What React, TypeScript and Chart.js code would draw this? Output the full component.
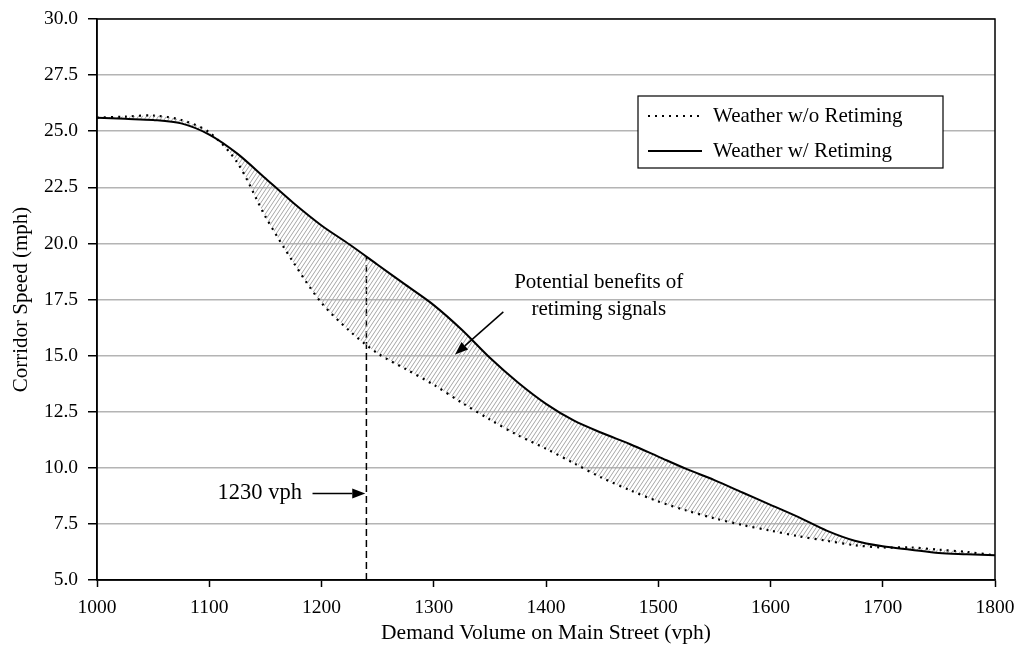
import React, { useEffect, useRef } from "react";
import { Chart, registerables } from "chart.js";

Chart.register(...registerables);

// Demand volume on main street (vph)
const volumes = [
  1000, 1025, 1050, 1075, 1100, 1125, 1150, 1175, 1200, 1225, 1250, 1275, 1300,
  1325, 1350, 1375, 1400, 1425, 1450, 1475, 1500, 1525, 1550, 1575, 1600, 1625,
  1650, 1675, 1700, 1725, 1750, 1775, 1800,
];

// Weather w/o Retiming (mph)
const speedWithout = [
  25.6, 25.65, 25.7, 25.5, 24.95, 23.6, 21.2, 19.15, 17.35, 16.1, 15.1, 14.4,
  13.7, 12.9, 12.15, 11.45, 10.85, 10.2, 9.55, 9.0, 8.5, 8.1, 7.75, 7.45, 7.2,
  6.95, 6.75, 6.55, 6.45, 6.45, 6.35, 6.25, 6.1,
];

// Weather w/ Retiming (mph)
const speedWith = [
  25.6, 25.55, 25.5, 25.35, 24.85, 24.0, 22.9, 21.8, 20.8, 19.95, 19.05, 18.15,
  17.25, 16.15, 14.9, 13.8, 12.85, 12.1, 11.55, 11.05, 10.5, 9.95, 9.45, 8.9,
  8.35, 7.8, 7.2, 6.75, 6.5, 6.35, 6.2, 6.15, 6.1,
];

const seriesLabels = ["Weather w/o Retiming", "Weather w/ Retiming"];

// Marker line at the highlighted demand volume
const markerVolume = 1240;
const markerRange = [5, 19.42];
const markerLabel = "1230 vph";
const markerLabelPos = [1145, 8.88];
const markerArrow = [1192, 8.86, 1239, 8.86];

// Benefit annotation
const benefitLines = ["Potential benefits of", "retiming signals"];
const benefitPos = [1447, 18.26, 17.05];
const benefitArrow = [1362, 16.95, 1319, 15.05];

const xMin = 1000;
const xMax = 1800;
const xStep = 100;
const yMin = 5;
const yMax = 30;
const yStep = 2.5;

const FONT = '"Liberation Serif", "Times New Roman", Times, serif';
const TICK_SIZE = 19.5;
const TEXT_SIZE = 21;

function makeHatch(): CanvasPattern | string {
  const c = document.createElement("canvas");
  const w = 4;
  const h = 6;
  c.width = w;
  c.height = h;
  const ctx = c.getContext("2d");
  if (!ctx) return "#ccc";
  ctx.strokeStyle = "#a6a6a6";
  ctx.lineWidth = 1;
  const lines = [
    [-w, h, 0, 0],
    [0, h, w, 0],
    [w, h, 2 * w, 0],
  ];
  for (const [x1, y1, x2, y2] of lines) {
    ctx.beginPath();
    ctx.moveTo(x1, y1);
    ctx.lineTo(x2, y2);
    ctx.stroke();
  }
  const p = ctx.createPattern(c, "repeat");
  return p || "#ccc";
}

function drawArrow(
  ctx: CanvasRenderingContext2D,
  x1: number,
  y1: number,
  x2: number,
  y2: number
) {
  const ang = Math.atan2(y2 - y1, x2 - x1);
  const headLen = 13;
  const headW = 5;
  const bx = x2 - headLen * Math.cos(ang);
  const by = y2 - headLen * Math.sin(ang);
  ctx.save();
  ctx.strokeStyle = "#000";
  ctx.fillStyle = "#000";
  ctx.lineWidth = 1.5;
  ctx.beginPath();
  ctx.moveTo(x1, y1);
  ctx.lineTo(bx, by);
  ctx.stroke();
  ctx.beginPath();
  ctx.moveTo(x2, y2);
  ctx.lineTo(bx + headW * Math.sin(ang), by - headW * Math.cos(ang));
  ctx.lineTo(bx - headW * Math.sin(ang), by + headW * Math.cos(ang));
  ctx.closePath();
  ctx.fill();
  ctx.restore();
}

const overlayPlugin = {
  id: "overlay",
  afterDraw(chart: any) {
    const { ctx, chartArea } = chart;
    const xs = chart.scales.x;
    const ys = chart.scales.y;
    ctx.save();
    // frame
    ctx.strokeStyle = "#000";
    ctx.lineWidth = 1.5;
    ctx.strokeRect(
      chartArea.left,
      chartArea.top,
      chartArea.right - chartArea.left,
      chartArea.bottom - chartArea.top
    );

    ctx.fillStyle = "#000";
    ctx.textBaseline = "middle";
    ctx.textAlign = "center";

    // marker label + arrow
    ctx.font = `${TEXT_SIZE + 1.5}px ${FONT}`;
    ctx.fillText(
      markerLabel,
      xs.getPixelForValue(markerLabelPos[0]),
      ys.getPixelForValue(markerLabelPos[1])
    );
    drawArrow(
      ctx,
      xs.getPixelForValue(markerArrow[0]),
      ys.getPixelForValue(markerArrow[1]),
      xs.getPixelForValue(markerArrow[2]),
      ys.getPixelForValue(markerArrow[3])
    );

    // benefit annotation
    ctx.font = `${TEXT_SIZE}px ${FONT}`;
    ctx.fillText(
      benefitLines[0],
      xs.getPixelForValue(benefitPos[0]),
      ys.getPixelForValue(benefitPos[1])
    );
    ctx.fillText(
      benefitLines[1],
      xs.getPixelForValue(benefitPos[0]),
      ys.getPixelForValue(benefitPos[2])
    );
    drawArrow(
      ctx,
      xs.getPixelForValue(benefitArrow[0]),
      ys.getPixelForValue(benefitArrow[1]),
      xs.getPixelForValue(benefitArrow[2]),
      ys.getPixelForValue(benefitArrow[3])
    );

    // legend box
    const bx = chartArea.right - 357;
    const by = chartArea.top + 77;
    const bw = 305;
    const bh = 72;
    ctx.fillStyle = "#fff";
    ctx.fillRect(bx, by, bw, bh);
    ctx.strokeStyle = "#000";
    ctx.lineWidth = 1.2;
    ctx.strokeRect(bx, by, bw, bh);
    const rows = [by + 20, by + 55];
    chart.data.datasets.slice(0, 2).forEach((ds: any, i: number) => {
      ctx.save();
      ctx.strokeStyle = ds.borderColor;
      ctx.lineWidth = ds.borderWidth;
      ctx.setLineDash(ds.borderDash || []);
      ctx.beginPath();
      ctx.moveTo(bx + 10, rows[i]);
      ctx.lineTo(bx + 64, rows[i]);
      ctx.stroke();
      ctx.restore();
      ctx.fillStyle = "#000";
      ctx.textAlign = "left";
      ctx.fillText(ds.label, bx + 75, rows[i]);
    });
    ctx.restore();
  },
};

export default function App() {
  const ref = useRef<HTMLCanvasElement | null>(null);

  useEffect(() => {
    if (!ref.current) return;
    const hatch = makeHatch();
    const chart = new Chart(ref.current, {
      type: "line",
      data: {
        datasets: [
          {
            label: seriesLabels[0],
            data: volumes.map((v, i) => ({ x: v, y: speedWithout[i] })),
            borderColor: "#000",
            borderWidth: 2.2,
            borderDash: [2, 5],
            pointRadius: 0,
            tension: 0.3,
            fill: false,
          },
          {
            label: seriesLabels[1],
            data: volumes.map((v, i) => ({ x: v, y: speedWith[i] })),
            borderColor: "#000",
            borderWidth: 2,
            pointRadius: 0,
            tension: 0.3,
            fill: "-1",
            backgroundColor: hatch as any,
          },
          {
            label: "marker",
            data: markerRange.map((y) => ({ x: markerVolume, y })),
            borderColor: "#000",
            borderWidth: 1.5,
            borderDash: [7, 4],
            pointRadius: 0,
            fill: false,
          },
        ],
      },
      options: {
        responsive: false,
        animation: false,
        layout: { padding: { top: 19, right: 23, left: 0, bottom: 0 } },
        plugins: {
          legend: { display: false },
          tooltip: { enabled: false },
        },
        scales: {
          x: {
            type: "linear",
            min: xMin,
            max: xMax,
            afterFit: (s: any) => {
              s.height = 67;
              s.paddingLeft = 0;
              s.paddingRight = 0;
            },
            ticks: {
              stepSize: xStep,
              color: "#000",
              padding: 9,
              font: { family: FONT, size: TICK_SIZE },
              callback: (v: any) => String(v),
            },
            grid: {
              drawOnChartArea: false,
              drawTicks: true,
              tickLength: 7,
              tickColor: "#000",
              tickWidth: 1.5,
            },
            border: { display: true, color: "#000", width: 1.5 },
            title: {
              display: true,
              text: "Demand Volume on Main Street (vph)",
              color: "#000",
              font: { family: FONT, size: TEXT_SIZE + 0.5 },
              padding: { top: 0, bottom: 1 },
            },
          },
          y: {
            type: "linear",
            min: yMin,
            max: yMax,
            afterFit: (s: any) => {
              s.width = 97;
              s.paddingTop = 0;
              s.paddingBottom = 0;
            },
            ticks: {
              stepSize: yStep,
              color: "#000",
              padding: 10,
              font: { family: FONT, size: TICK_SIZE },
              callback: (v: any) => Number(v).toFixed(1),
            },
            grid: {
              color: "#b4b4b4",
              lineWidth: 1.5,
              tickLength: 9,
              tickColor: "#000",
              tickWidth: 1.5,
            },
            border: { display: true, color: "#000", width: 1.5 },
            title: {
              display: true,
              text: "Corridor Speed (mph)",
              color: "#000",
              font: { family: FONT, size: TEXT_SIZE },
              padding: { top: 9, bottom: 0 },
            },
          },
        },
      },
      plugins: [overlayPlugin],
    });
    return () => chart.destroy();
  }, []);

  return (
    <canvas
      ref={ref}
      width={1018}
      height={647}
      style={{ position: "absolute", left: 0, top: 0, display: "block" }}
    />
  );
}
